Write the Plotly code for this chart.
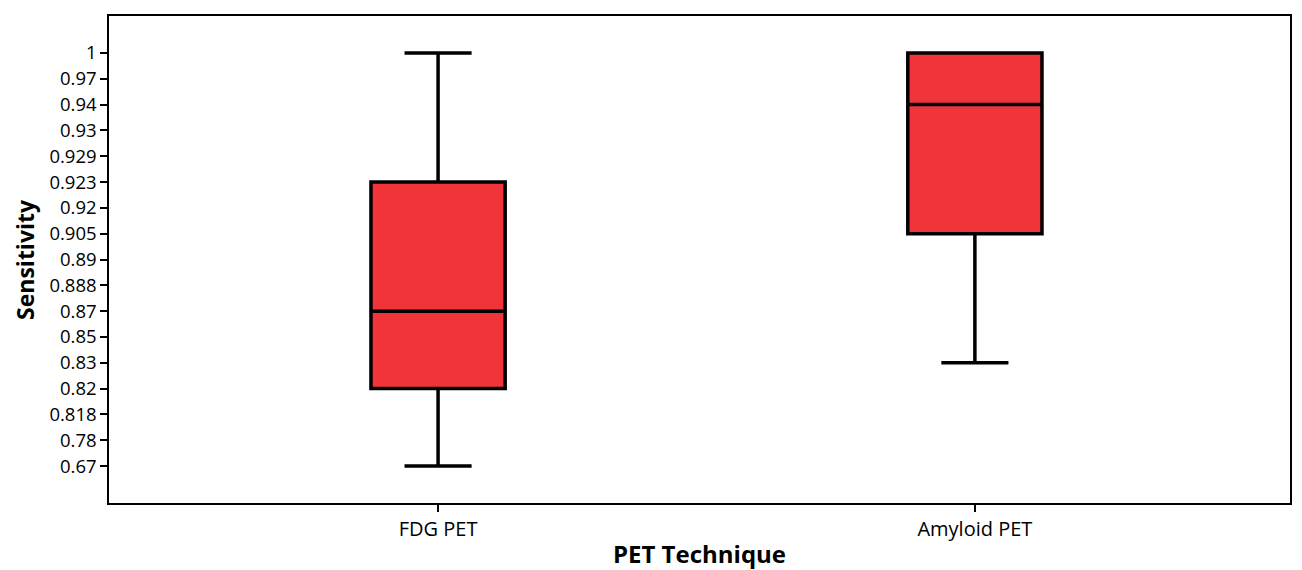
import plotly.graph_objects as go

# Ordinal y-axis tick labels (bottom to top), equally spaced in the chart
tick_labels = ["0.67", "0.78", "0.818", "0.82", "0.83", "0.85", "0.87", "0.888",
               "0.89", "0.905", "0.92", "0.923", "0.929", "0.93", "0.94", "0.97", "1"]
categories = ["FDG PET", "Amyloid PET"]
lower = ["0.67", "0.83"]
q1 = ["0.82", "0.905"]
median = ["0.87", "0.94"]
q3 = ["0.923", "1"]
upper = ["1", "1"]

pos = {lab: i for i, lab in enumerate(tick_labels)}

fig = go.Figure()
fig.add_trace(go.Box(
    x=categories,
    lowerfence=[pos[v] for v in lower],
    q1=[pos[v] for v in q1],
    median=[pos[v] for v in median],
    q3=[pos[v] for v in q3],
    upperfence=[pos[v] for v in upper],
    fillcolor="#F0343A",
    line=dict(color="black", width=3.5),
    width=0.25,
    whiskerwidth=0.5,
    boxpoints=False,
    hoverinfo="skip",
    showlegend=False,
))

fig.update_layout(
    width=1294, height=562,
    margin=dict(l=101, r=12, t=8, b=67),
    paper_bgcolor="white", plot_bgcolor="white",
    font=dict(family="Open Sans", color="black", size=18),
    xaxis=dict(
        type="category", range=[-0.613, 1.587],
        showline=True, linecolor="black", linewidth=1.5, mirror=True,
        ticks="outside", ticklen=7, tickwidth=1.5, tickcolor="black",
        showgrid=False, zeroline=False,
        title=dict(text="<b>PET Technique</b>", font=dict(size=24), standoff=6),
        tickfont=dict(size=20),
        automargin=False,
    ),
    yaxis=dict(
        range=[-1.43, 17.43],
        tickvals=list(range(len(tick_labels))), ticktext=tick_labels,
        showline=True, linecolor="black", linewidth=1.5, mirror=True,
        ticks="outside", ticklen=7, tickwidth=1.5, tickcolor="black",
        showgrid=False, zeroline=False,
        tickfont=dict(size=18.5),
        automargin=False,
    ),
    annotations=[dict(
        text="<b>Sensitivity</b>", textangle=-90,
        xref="paper", yref="paper", x=-0.0716, y=0.5,
        xanchor="center", yanchor="middle", showarrow=False,
        font=dict(size=23),
    )],
)

fig.write_html("out.html")
